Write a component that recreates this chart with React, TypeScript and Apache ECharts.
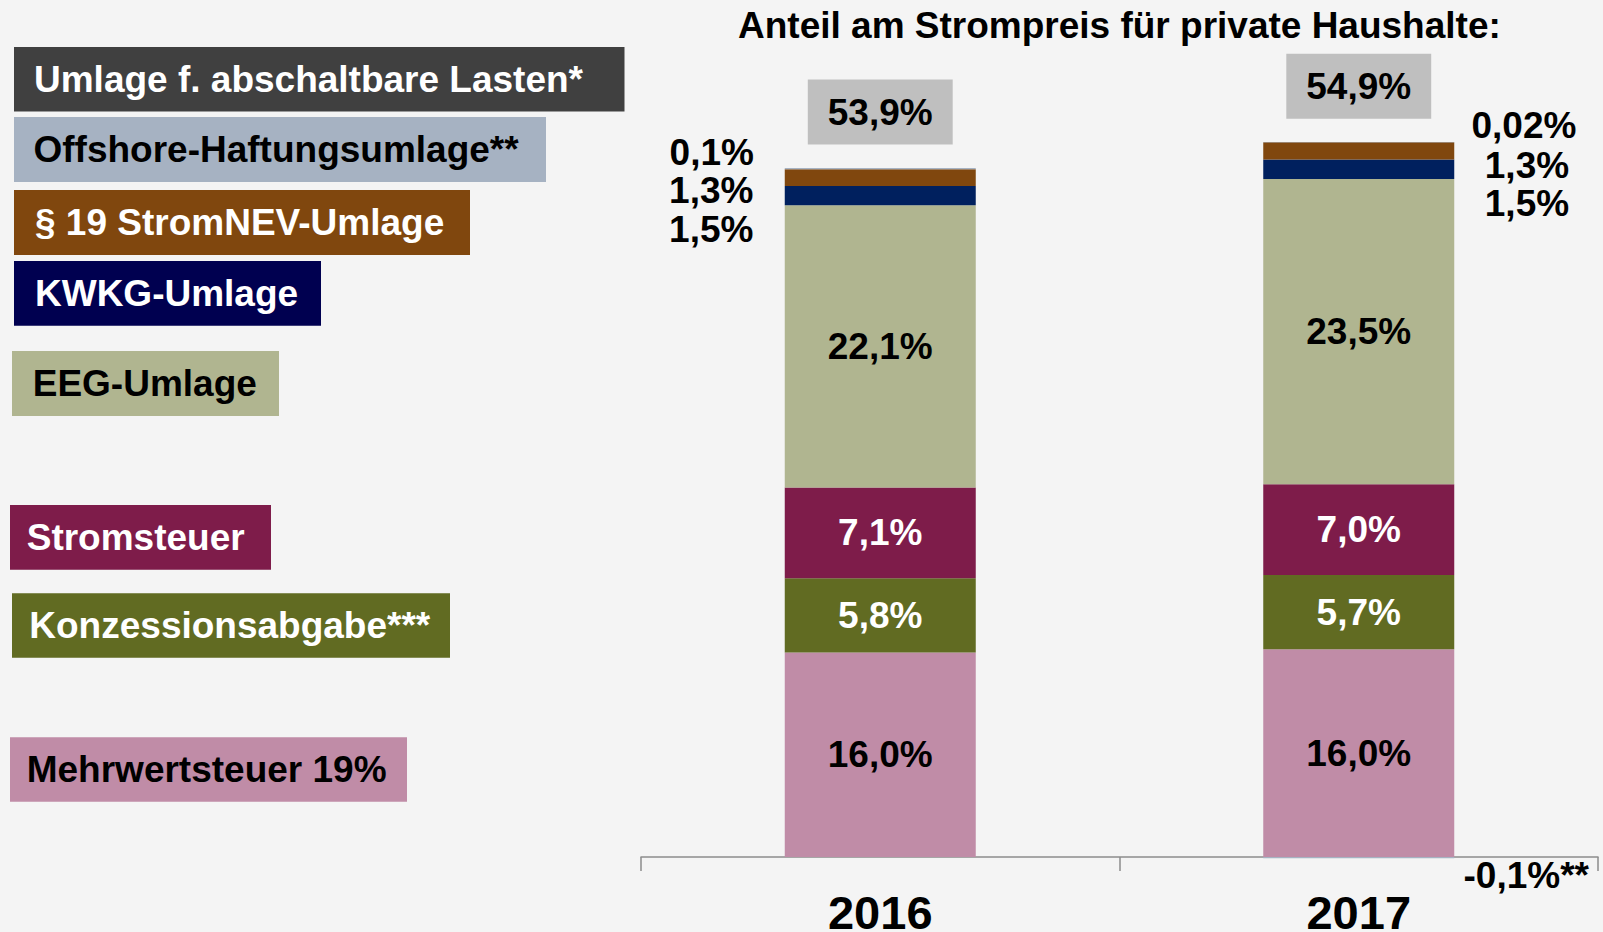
import React, { useEffect, useRef } from "react";
import * as echarts from "echarts";

// ---------- data ----------
const years = ["2016", "2017"];
// stack order: bottom -> top
const componentNames = [
  "Mehrwertsteuer 19%",
  "Konzessionsabgabe***",
  "Stromsteuer",
  "EEG-Umlage",
  "KWKG-Umlage",
  "§ 19 StromNEV-Umlage",
  "Offshore-Haftungsumlage**",
  "Umlage f. abschaltbare Lasten*",
];
// share of the household electricity price, in %
const shares2016 = [16.0, 5.8, 7.1, 22.1, 1.5, 1.3, 0.1, 0];
const shares2017 = [16.0, 5.7, 7.0, 23.5, 1.5, 1.3, -0.1, 0.02];
const notes2017 = ["", "", "", "", "", "", "**", ""];
const totalShares = [53.9, 54.9];
// average household price (ct/kWh) – bar heights are proportional to the price
const avgPriceCt = [28.69, 29.16];

// ---------- styles ----------
const FONT = '"Liberation Sans", Arial, Helvetica, sans-serif';
const barColors = ["#C08CA7", "#616B22", "#7E1C4A", "#B0B590", "#00205E", "#80470E", "#A6B2C2", "#404040"];
const legendColors = ["#C08CA7", "#616B22", "#7E1C4A", "#B0B590", "#000050", "#80470E", "#A6B2C2", "#404040"];
const textColors = ["#000", "#fff", "#fff", "#000", "#fff", "#fff", "#000", "#fff"];
// label placement per component per year: "inside", none, or offset (px) from the segment's top-left
const labelPlacement: (null | "inside" | [number, number])[][] = [
  ["inside", "inside"],
  ["inside", "inside"],
  ["inside", "inside"],
  ["inside", "inside"],
  [[-73.5, 43.7], [263.7, 44.6]],
  [[-73.5, 21.6], [263.7, 23.3]],
  [[-73, -15.5], [263, 18]],
  [null, [260.7, -16.9]],
];
// legend boxes (layout), indexed like componentNames
const legendBoxes = [
  { x: 10, y: 737.3, w: 397, h: 64.4, tx: 26.7 },
  { x: 12, y: 593.3, w: 438, h: 64.4, tx: 29.3 },
  { x: 10, y: 505, w: 261, h: 64.7, tx: 26.7 },
  { x: 12, y: 351, w: 267, h: 65, tx: 32.7 },
  { x: 14, y: 261, w: 307, h: 64.7, tx: 35 },
  { x: 14, y: 190, w: 456, h: 65, tx: 35 },
  { x: 14, y: 117, w: 532, h: 65, tx: 33.5 },
  { x: 14, y: 47, w: 610.5, h: 64.5, tx: 34 },
];

const fmt = (v: number) => {
  const d = v !== 0 && Math.abs(v) < 0.1 ? 2 : 1;
  return v.toFixed(d).replace(".", ",") + "%";
};

const sharesByYear = [shares2016, shares2017];
const notesByYear = [componentNames.map(() => ""), notes2017];

export default function App() {
  const ref = useRef<HTMLDivElement>(null);

  useEffect(() => {
    if (!ref.current) return;
    const chart = echarts.init(ref.current, undefined, { renderer: "svg" });

    const labelBase = {
      fontSize: 37,
      fontWeight: "bold" as const,
      fontFamily: FONT,
      lineHeight: 37,
    };

    const barSeries = componentNames.map((name, s) => ({
      name,
      type: "bar" as const,
      stack: "total",
      barWidth: 191,
      clip: false,
      itemStyle: { color: barColors[s] },
      label: { ...labelBase },
      emphasis: { disabled: true },
      data: years.map((_, y) => {
        const share = sharesByYear[y][s];
        const value = (share * avgPriceCt[y]) / 100;
        const place = labelPlacement[s][y];
        let label: any;
        if (place === null) label = { show: false };
        else if (place === "inside")
          label = { show: true, position: "inside", color: textColors[s] };
        else
          label = {
            show: true,
            position: place,
            align: "center",
            verticalAlign: "middle",
            color: "#000",
          };
        label.formatter = fmt(share) + notesByYear[y][s];
        return { value, label };
      }),
    }));

    const stackTops = years.map((_, y) =>
      sharesByYear[y].reduce((acc, sh) => (sh > 0 ? acc + (sh * avgPriceCt[y]) / 100 : acc), 0)
    );

    const totalSeries = {
      name: "Gesamt",
      type: "scatter" as const,
      symbolSize: 0,
      silent: true,
      z: 5,
      itemStyle: { color: "transparent", opacity: 1 },
      emphasis: { disabled: true },
      data: stackTops.map((v, y) => ({
        value: [years[y], v],
        label: {
          show: true,
          position: "top",
          distance: 23.5,
          formatter: fmt(totalShares[y]),
          backgroundColor: "#BFBFBF",
          padding: [14, 20, 14, 20],
          color: "#000",
          opacity: 1,
          ...labelBase,
        },
      })),
    };

    const graphics: any[] = [];
    componentNames.forEach((name, s) => {
      const b = legendBoxes[s];
      graphics.push({
        type: "rect",
        shape: { x: b.x, y: b.y, width: b.w, height: b.h },
        style: { fill: legendColors[s] },
        silent: true,
      });
      graphics.push({
        type: "text",
        x: b.tx,
        y: b.y + b.h / 2,
        silent: true,
        style: {
          text: name,
          fill: textColors[s],
          fontSize: 37,
          fontWeight: "bold",
          fontFamily: FONT,
          verticalAlign: "middle",
          align: "left",
        },
      });
    });

    chart.setOption({
      animation: false,
      backgroundColor: "#F4F4F4",
      title: {
        text: "Anteil am Strompreis für private Haushalte:",
        left: 738,
        top: 7,
        padding: 0,
        textStyle: {
          fontSize: 37,
          fontWeight: "bold",
          fontFamily: FONT,
          lineHeight: 37,
          color: "#000",
        },
      },
      grid: {
        left: 641,
        right: 5,
        top: 55.1,
        bottom: 75,
        containLabel: false,
        outerBoundsMode: "none",
      },
      xAxis: {
        type: "category",
        data: years,
        axisLine: { show: true, lineStyle: { color: "#8C8C8C", width: 1.5 } },
        axisTick: { show: true, length: 14, lineStyle: { color: "#8C8C8C", width: 1.5 } },
        axisLabel: {
          margin: 40,
          fontSize: 47,
          fontWeight: "bold",
          fontFamily: FONT,
          lineHeight: 30,
          color: "#000",
          hideOverlap: false,
        },
        splitLine: { show: false },
      },
      yAxis: {
        type: "value",
        min: 0,
        max: 18,
        show: false,
        splitLine: { show: false },
      },
      graphic: graphics,
      series: [...barSeries, totalSeries],
    });

    return () => chart.dispose();
  }, []);

  return (
    <div
      ref={ref}
      style={{ position: "fixed", left: 0, top: 0, width: 1603, height: 932 }}
    />
  );
}
